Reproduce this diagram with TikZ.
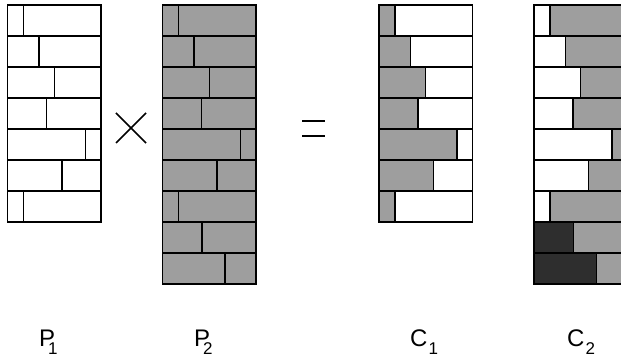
\documentclass[tikz,border=0pt]{standalone}
\usepackage{fontspec}
\setmainfont{Liberation Sans}
\definecolor{midgray}{HTML}{9E9E9E}
\definecolor{darkgray2}{HTML}{2E2E2E}
\newcommand\brickrow[5]{%
  \pgfmathsetmacro\yt{5+31*(#2-1)}%
  \pgfmathsetmacro\yb{\yt+31}%
  \pgfmathsetmacro\xs{#1+#3}%
  \pgfmathsetmacro\xe{#1+93.5}%
  \filldraw[cell,fill=#4] (#1,\yt) rectangle (\xs,\yb);%
  \filldraw[cell,fill=#5] (\xs,\yt) rectangle (\xe,\yb);%
}
\begin{document}
\begin{tikzpicture}[x=1pt,y=-1pt,
  cell/.style={draw=black,line width=1.3pt},
  sign/.style={line width=1.6pt,line cap=butt},
  lab/.style={anchor=base west,inner sep=0pt,font=\fontsize{24}{28}\selectfont}]
\useasboundingbox (0,0) rectangle (621,358);
\clip (0,0) rectangle (621,358);
% P1
\foreach \s [count=\i] in {16,31.5,46.8,39,78,54.5,16}{\brickrow{7.5}{\i}{\s}{white}{white}}
% P2
\foreach \s [count=\i] in {16,31.5,46.8,39,78,54.5,16,39.5,62.5}{\brickrow{162.5}{\i}{\s}{midgray}{midgray}}
% C1
\foreach \s [count=\i] in {16,31.5,46.8,39,78,54.5,16}{\brickrow{379}{\i}{\s}{midgray}{white}}
% C2
\foreach \s [count=\i] in {16,31.5,46.8,39,78,54.5,16}{\brickrow{534}{\i}{\s}{white}{midgray}}
\brickrow{534}{8}{39.5}{darkgray2}{midgray}
\brickrow{534}{9}{62.5}{darkgray2}{midgray}
% times sign
\coordinate (t1) at (116,113); \coordinate (t2) at (146,143);
\coordinate (t3) at (116,143); \coordinate (t4) at (146,113);
\draw[sign] (t1) -- (t2) (t3) -- (t4);
% equals sign
\coordinate (e1) at (302,121); \coordinate (e2) at (325,121);
\coordinate (e3) at (302,136); \coordinate (e4) at (325,136);
\draw[sign] (e1) -- (e2) (e3) -- (e4);
% labels
\node[lab] (lp1) at (39,346) {P\kern-7pt\raisebox{-8pt}{\fontsize{17}{17}\selectfont 1}};
\node[lab] (lp2) at (194,346) {P\kern-7pt\raisebox{-8pt}{\fontsize{17}{17}\selectfont 2}};
\node[lab] (lc1) at (410,346) {C\kern1pt\raisebox{-8pt}{\fontsize{17}{17}\selectfont 1}};
\node[lab] (lc2) at (567,346) {C\kern1pt\raisebox{-8pt}{\fontsize{17}{17}\selectfont 2}};
\end{tikzpicture}
\end{document}
